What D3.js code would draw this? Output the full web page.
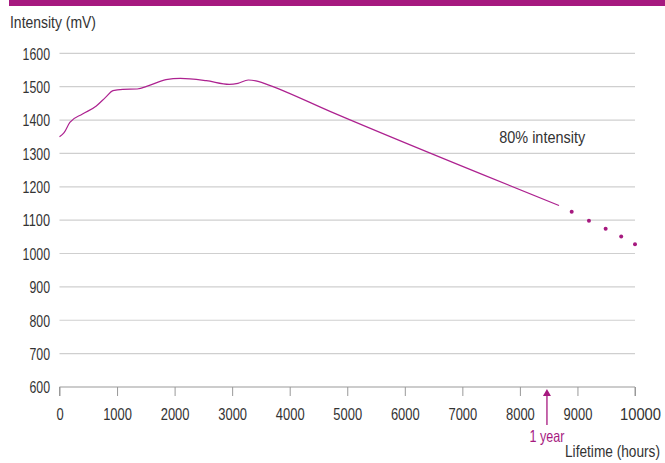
<!DOCTYPE html>
<html>
<head>
<meta charset="utf-8">
<script src="https://cdn.jsdelivr.net/npm/d3@7"></script>
<style>
  body { margin: 0; background: #fff; }
  svg text { font-family: "Liberation Sans", Arial, sans-serif; fill: #333; }
</style>
</head>
<body>
<div id="chart"></div>
<script>
// measured curve (hours, mV)
const hours = [0, 80, 180, 400, 640, 800, 930, 1100, 1350, 1550, 1850, 2100, 2550, 2950, 3100, 3280, 3450, 3650, 4700, 8680]
const intensity = [1350, 1362, 1393, 1418, 1442, 1468, 1488, 1492, 1493, 1503, 1521, 1525, 1518, 1507, 1510, 1520, 1516, 1504, 1426, 1144]
// projected points
const dotHours = [8900, 9200, 9490, 9760, 10000]
const dotIntensity = [1125, 1098, 1074, 1051, 1028]
const yTicks = [600, 700, 800, 900, 1000, 1100, 1200, 1300, 1400, 1500, 1600]
const xTicks = [0, 1000, 2000, 3000, 4000, 5000, 6000, 7000, 8000, 9000, 10000]
const oneYear = 8470
const note = { h: 7640, v: 1331, text: '80% intensity' }

let width = 665
let height = 463
let magenta = '#a6197f'

let x = d3.scaleLinear([0, 10000], [59.5, 635])
let y = d3.scaleLinear([600, 1600], [387, 53.3])

// the original uses a condensed face, squeeze text to its width
let digitW = 7.2
let numLen = d => d === 10000 ? 41 : String(d).length * digitW

let svg = d3.select('#chart').append('svg')
  .attr('width', width)
  .attr('height', height)

// top bar
svg.append('rect').attr('x', 9).attr('y', 0).attr('width', width - 9).attr('height', 6).attr('fill', magenta)

// grid lines
svg.append('g').selectAll('line').data(yTicks.slice(1)).enter().append('line')
  .attr('x1', x(0)).attr('x2', x(10000))
  .attr('y1', d => y(d)).attr('y2', d => y(d))
  .attr('stroke', '#cfcfcf').attr('stroke-width', 1.2)

// y labels
svg.append('g').selectAll('text').data(yTicks).enter().append('text')
  .attr('x', 50).attr('y', d => y(d) + 6.3)
  .attr('text-anchor', 'end').attr('font-size', 16.5)
  .attr('textLength', d => String(d).length * 6.85).attr('lengthAdjust', 'spacingAndGlyphs')
  .text(d => d)

// x axis
let xAxis = svg.append('g').attr('transform', `translate(0,${y(600)})`)
  .call(d3.axisBottom(x).tickValues(xTicks).tickSize(9).tickPadding(12).tickFormat(d => d))
xAxis.select('.domain').attr('stroke', '#999').attr('d', `M${x(0)},9V0H${x(10000)}V9`)
xAxis.selectAll('.tick line').attr('stroke', '#999')
xAxis.selectAll('.tick text').attr('font-size', 16.5).style('fill', '#333')
  .style('font-family', '"Liberation Sans", Arial, sans-serif')
  .attr('textLength', d => numLen(d)).attr('lengthAdjust', 'spacingAndGlyphs')
xAxis.selectAll('.tick').filter(d => d === 10000).select('text').attr('x', 5)

// curve
let pts = hours.map((h, i) => [h, intensity[i]])
svg.append('path').datum(pts)
  .attr('d', d3.line().x(d => x(d[0])).y(d => y(d[1])).curve(d3.curveMonotoneX))
  .attr('fill', 'none').attr('stroke', '#ad2290').attr('stroke-width', 1.2)

svg.append('g').selectAll('circle').data(dotHours).enter().append('circle')
  .attr('cx', d => x(d)).attr('cy', (d, i) => y(dotIntensity[i]))
  .attr('r', 2).attr('fill', magenta)

// annotation
svg.append('text').attr('x', x(note.h)).attr('y', y(note.v)).attr('font-size', 16.5)
  .attr('textLength', 86).attr('lengthAdjust', 'spacingAndGlyphs').text(note.text)

// 1 year arrow
svg.append('line').attr('x1', x(oneYear)).attr('x2', x(oneYear)).attr('y1', 394).attr('y2', 425)
  .attr('stroke', magenta).attr('stroke-width', 1.3)
svg.append('path').attr('d', `M${x(oneYear)},389l-4,7h8z`).attr('fill', magenta)
svg.append('text').attr('x', x(oneYear)).attr('y', 442).attr('text-anchor', 'middle')
  .attr('font-size', 16.5).attr('textLength', 35).attr('lengthAdjust', 'spacingAndGlyphs')
  .style('fill', magenta).text('1 year')

// axis titles
svg.append('text').attr('x', 10).attr('y', 28).attr('font-size', 17)
  .attr('textLength', 86).attr('lengthAdjust', 'spacingAndGlyphs').text('Intensity (mV)')
svg.append('text').attr('x', 565).attr('y', 457).attr('font-size', 16)
  .attr('textLength', 95).attr('lengthAdjust', 'spacingAndGlyphs').text('Lifetime (hours)')
</script>
</body>
</html>
